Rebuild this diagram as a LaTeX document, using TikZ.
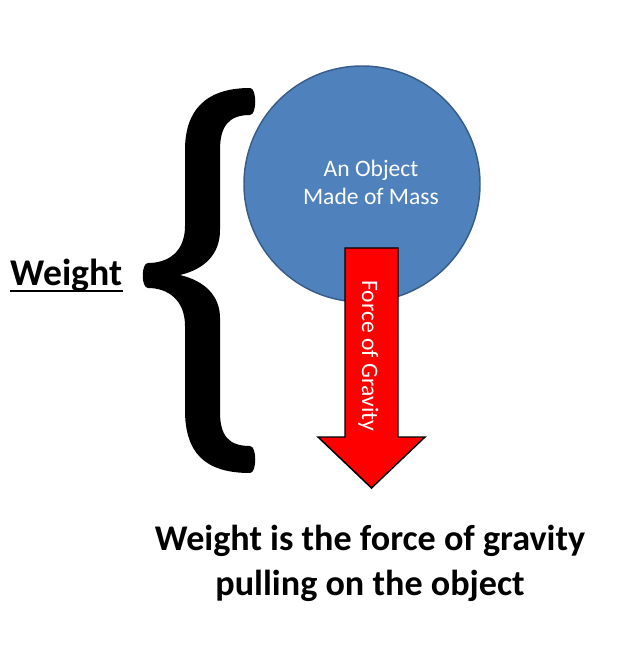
\documentclass[tikz,border=0pt]{standalone}
\usepackage{fontspec}
\setmainfont{Carlito}
\usepackage{tikz}
\usetikzlibrary{arrows, positioning}

\definecolor{massblue}{HTML}{4F81BD}
\definecolor{massedge}{HTML}{385D8A}

\begin{document}
\begin{tikzpicture}[x=0.75pt, y=-0.75pt]
    \useasboundingbox (0,0) rectangle (621,666);

    % Object
    \node[circle, draw=massedge, fill=massblue, line width=1.1pt, minimum size=177pt, inner sep=0pt] (obj) at (362,184) {};
    \node[text=white, font=\fontsize{17.7}{21}\selectfont, anchor=base] (objtop) at (371,177) {An Object};
    \node[text=white, font=\fontsize{17.7}{21}\selectfont, anchor=base] (objbot) at (371,205) {Made of Mass};

    % Gravity arrow
    \draw[fill=red, line width=1.1pt, line join=miter] (345,248) -- (398,248) -- (398,437) -- (425,437)
        -- (371.5,488) -- (318,437) -- (345,437) -- cycle;
    \node[text=white, font=\fontsize{17.7}{21}\selectfont, rotate=-90, anchor=base] (force) at (362,356) {Force of Gravity};

    % Brace
    \fill (250,88) .. controls (204,88) and (185,112) .. (185,150)
        -- (185,226)
        .. controls (185,252) and (168,263) .. (148,263)
        .. controls (141,263) and (141,288) .. (148,288)
        .. controls (168,288) and (185,300) .. (185,326)
        -- (185,410)
        .. controls (185,452) and (204,473) .. (250,473)
        .. controls (257,473) and (257,446) .. (250,446)
        .. controls (229,446) and (220,436) .. (220,412)
        -- (220,318)
        .. controls (220,296) and (205,281) .. (180,275)
        .. controls (205,269) and (220,254) .. (220,230)
        -- (220,150)
        .. controls (220,126) and (229,115) .. (250,115)
        .. controls (257,115) and (257,88) .. (250,88) -- cycle;

    % Label
    \node[font=\bfseries\fontsize{28.3}{32}\selectfont, anchor=base, inner sep=0pt] (weight) at (66.5,285) {Weight};
    \draw[line width=1.5pt] ([yshift=-4.5pt]weight.base west) -- ([yshift=-4.5pt]weight.base east);

    % Caption
    \node[font=\bfseries\fontsize{27.1}{31}\selectfont, anchor=base] (cap1) at (370,550) {Weight is the force of gravity};
    \node[font=\bfseries\fontsize{27.1}{31}\selectfont, anchor=base] (cap2) at (370,595) {pulling on the object};
\end{tikzpicture}
\end{document}
